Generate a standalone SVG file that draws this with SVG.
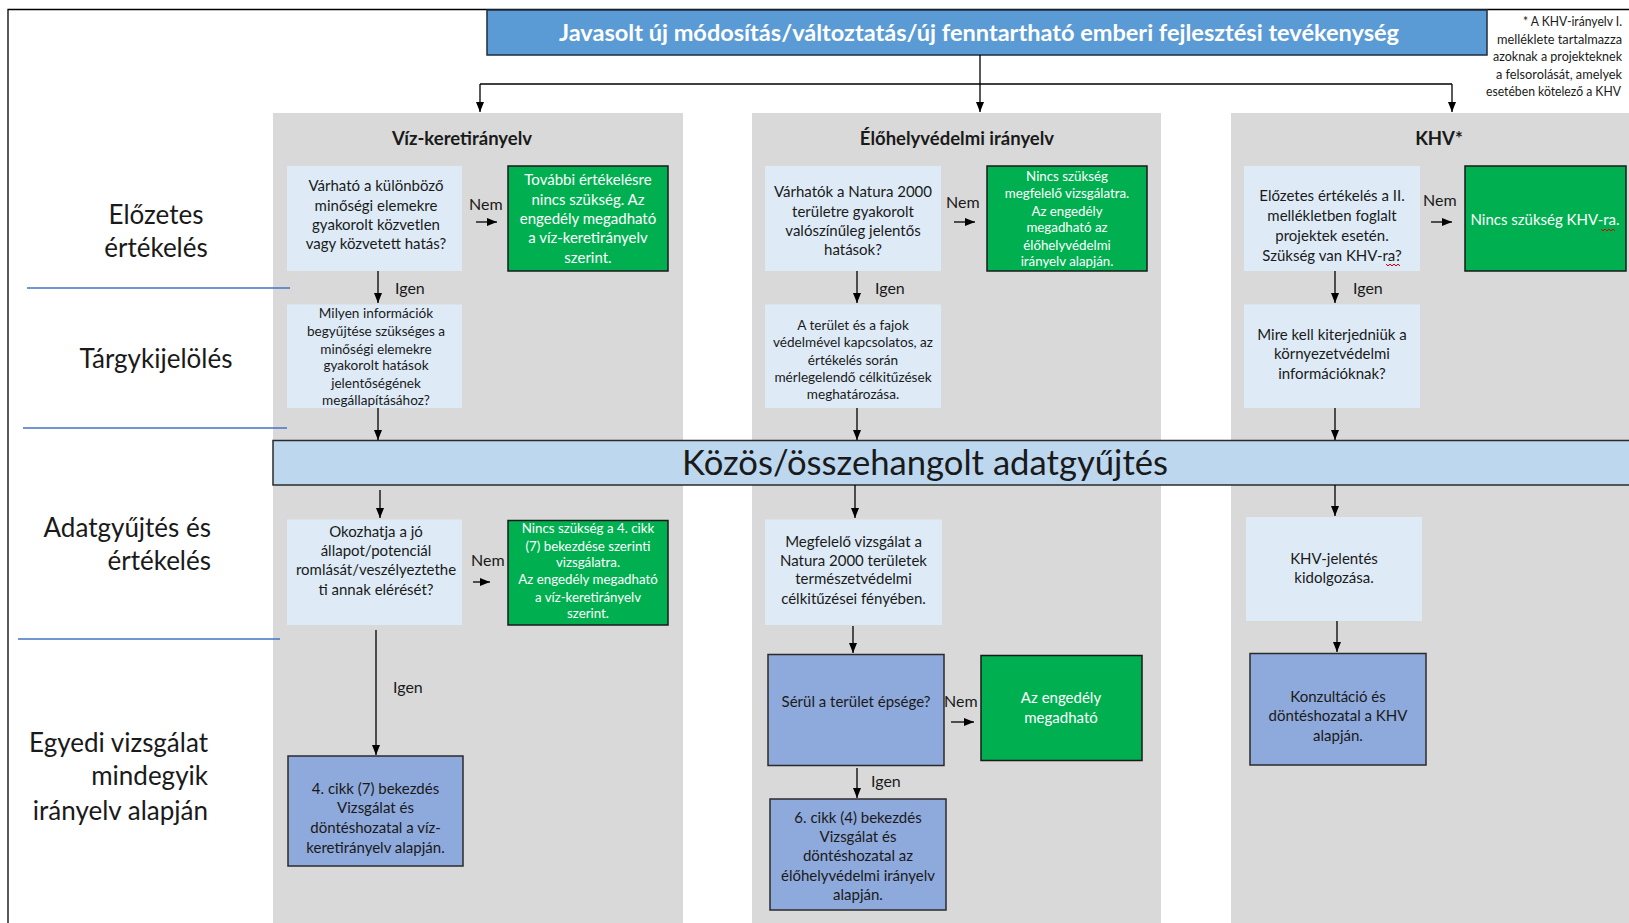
<svg xmlns="http://www.w3.org/2000/svg" width="1629" height="923" viewBox="0 0 1629 923">
<defs>
<marker id="ah" viewBox="0 0 10 8" refX="10" refY="4" markerWidth="10" markerHeight="8" markerUnits="userSpaceOnUse" orient="auto">
<path d="M0,0 L10,4 L0,8 z" fill="#000"/>
</marker>
</defs>
<style>
text{font-family:Lato,"Open Sans","Liberation Sans",sans-serif;}
.lane{fill:#D9D9D9;}
.q{fill:#DEEBF7;}
.g{fill:#00B050;stroke:#1a1a1a;stroke-width:1.5;}
.b{fill:#8EA9DB;stroke:#2b2b2b;stroke-width:1.5;}
.t{font-size:15px;fill:#1a1a1a;text-anchor:middle;}
.ts{font-size:13.6px;fill:#1a1a1a;text-anchor:middle;}
.w{font-size:15px;fill:#fff;text-anchor:middle;}
.ws{font-size:13.3px;fill:#fff;text-anchor:middle;}
.lbl{font-size:16px;fill:#1a1a1a;}
.row{font-size:26px;fill:#1a1a1a;}
.sep{stroke:#4472C4;stroke-width:1.3;fill:none;}
.c{stroke:#000;stroke-width:1.3;fill:none;marker-end:url(#ah);}
.ttl{font-size:18.5px;font-weight:bold;fill:#1a1a1a;text-anchor:middle;}
.wave{stroke:#E00000;stroke-width:1;fill:none;}
</style>

<path d="M8,923 V9.5 H1629" fill="none" stroke="#000" stroke-width="1.3"/>

<g id="lanes">
<rect class="lane" x="273" y="113" width="410" height="810"/>
<rect class="lane" x="752" y="113" width="409" height="810"/>
<rect class="lane" x="1231" y="113" width="398" height="810"/>
<text class="ttl" x="462" y="144.5">Víz-keretirányelv</text>
<text class="ttl" x="957" y="144.5">Élőhelyvédelmi irányelv</text>
<text class="ttl" x="1439" y="144.5">KHV*</text>
</g>

<g id="row-labels">
<text class="row" x="156" y="224" text-anchor="middle">Előzetes</text>
<text class="row" x="156" y="257" text-anchor="middle">értékelés</text>
<text class="row" x="156" y="368" text-anchor="middle">Tárgykijelölés</text>
<text class="row" x="211" y="537" text-anchor="end">Adatgyűjtés és</text>
<text class="row" x="211" y="570" text-anchor="end">értékelés</text>
<text class="row" x="208" y="752" text-anchor="end">Egyedi vizsgálat</text>
<text class="row" x="208" y="785" text-anchor="end">mindegyik</text>
<text class="row" x="208" y="820" text-anchor="end">irányelv alapján</text>
<line class="sep" x1="27" y1="288" x2="290" y2="288"/>
<line class="sep" x1="23" y1="428" x2="287" y2="428"/>
<line class="sep" x1="18" y1="639" x2="280" y2="639"/>
</g>

<g id="banner">
<rect x="487" y="10" width="1000" height="45" fill="#5B9BD5" stroke="#1f2d3d" stroke-width="1.5"/>
<text x="979" y="41" font-size="22" font-weight="bold" fill="#fff" text-anchor="middle" textLength="840" lengthAdjust="spacingAndGlyphs">Javasolt új módosítás/változtatás/új fenntartható emberi fejlesztési tevékenység</text>
</g>

<g id="footnote" font-size="13" fill="#1a1a1a">
<text x="1523" y="26" textLength="99" lengthAdjust="spacingAndGlyphs">* A KHV-irányelv I.</text>
<text x="1497" y="43.5" textLength="125" lengthAdjust="spacingAndGlyphs">melléklete tartalmazza</text>
<text x="1493" y="61" textLength="129" lengthAdjust="spacingAndGlyphs">azoknak a projekteknek</text>
<text x="1496" y="79" textLength="126" lengthAdjust="spacingAndGlyphs">a felsorolását, amelyek</text>
<text x="1486" y="95.5" textLength="135" lengthAdjust="spacingAndGlyphs">esetében kötelező a KHV</text>
</g>

<g id="common-bar">
<rect x="273" y="440.5" width="1370" height="44.5" fill="#BDD7EE" stroke="#2b2b2b" stroke-width="1.5"/>
<text x="925" y="475" font-size="34" fill="#1a1a1a" text-anchor="middle" textLength="486" lengthAdjust="spacingAndGlyphs">Közös/összehangolt adatgyűjtés</text>
</g>

<!-- Panel 1 -->
<g id="wfd-q1">
<rect class="q" x="287" y="166" width="175" height="105"/>
<text class="t" x="376" y="191">Várható a különböző</text>
<text class="t" x="376" y="210.5">minőségi elemekre</text>
<text class="t" x="376" y="229.5">gyakorolt közvetlen</text>
<text class="t" x="376" y="249">vagy közvetett hatás?</text>
</g>
<g id="wfd-no1">
<rect class="g" x="508" y="166" width="160" height="105"/>
<text class="w" x="588" y="185">További értékelésre</text>
<text class="w" x="588" y="204.5">nincs szükség. Az</text>
<text class="w" x="588" y="224">engedély megadható</text>
<text class="w" x="588" y="243">a víz-keretirányelv</text>
<text class="w" x="588" y="262.5">szerint.</text>
</g>
<g id="wfd-q2">
<rect class="q" x="287" y="304.5" width="175" height="103.5"/>
<text class="ts" x="376" y="318">Milyen információk</text>
<text class="ts" x="376" y="336">begyűjtése szükséges a</text>
<text class="ts" x="376" y="353.5">minőségi elemekre</text>
<text class="ts" x="376" y="370">gyakorolt hatások</text>
<text class="ts" x="376" y="388">jelentőségének</text>
<text class="ts" x="376" y="404.5">megállapításához?</text>
</g>
<g id="wfd-q3">
<rect class="q" x="287" y="519.5" width="175" height="105.5"/>
<text class="t" x="376" y="536.5">Okozhatja a jó</text>
<text class="t" x="376" y="556">állapot/potenciál</text>
<text class="t" x="376" y="575">romlását/veszélyeztethe</text>
<text class="t" x="376" y="594.5">ti annak elérését?</text>
</g>
<g id="wfd-no2">
<rect class="g" x="508" y="520.5" width="160" height="104.5"/>
<text class="ws" x="588" y="533">Nincs szükség a 4. cikk</text>
<text class="ws" x="588" y="550.5">(7) bekezdése szerinti</text>
<text class="ws" x="588" y="567">vizsgálatra.</text>
<text class="ws" x="588" y="584">Az engedély megadható</text>
<text class="ws" x="588" y="601.5">a víz-keretirányelv</text>
<text class="ws" x="588" y="618">szerint.</text>
</g>
<g id="wfd-decision">
<rect class="b" x="288" y="756" width="175" height="110"/>
<text class="t" x="375.5" y="793.5">4. cikk (7) bekezdés</text>
<text class="t" x="375.5" y="813">Vizsgálat és</text>
<text class="t" x="375.5" y="833">döntéshozatal a víz-</text>
<text class="t" x="375.5" y="852.5">keretirányelv alapján.</text>
</g>

<!-- Panel 2 -->
<g id="hd-q1">
<rect class="q" x="765" y="166" width="176" height="105"/>
<text class="t" x="853" y="197">Várhatók a Natura 2000</text>
<text class="t" x="853" y="217">területre gyakorolt</text>
<text class="t" x="853" y="235.5">valószínűleg jelentős</text>
<text class="t" x="853" y="255">hatások?</text>
</g>
<g id="hd-no1">
<rect class="g" x="987" y="166" width="160" height="105"/>
<text class="ws" x="1067" y="181">Nincs szükség</text>
<text class="ws" x="1067" y="197.5">megfelelő vizsgálatra.</text>
<text class="ws" x="1067" y="215.5">Az engedély</text>
<text class="ws" x="1067" y="232">megadható az</text>
<text class="ws" x="1067" y="249.5">élőhelyvédelmi</text>
<text class="ws" x="1067" y="266">irányelv alapján.</text>
</g>
<g id="hd-q2">
<rect class="q" x="765" y="304.5" width="176" height="103.5"/>
<text class="ts" x="853" y="329.7">A terület és a fajok</text>
<text class="ts" x="853" y="347.3">védelmével kapcsolatos, az</text>
<text class="ts" x="853" y="365">értékelés során</text>
<text class="ts" x="853" y="381.6">mérlegelendő célkitűzések</text>
<text class="ts" x="853" y="399.3">meghatározása.</text>
</g>
<g id="hd-q3">
<rect class="q" x="765" y="519.5" width="177" height="105.5"/>
<text class="t" x="853.5" y="546.8">Megfelelő vizsgálat a</text>
<text class="t" x="853.5" y="565.5">Natura 2000 területek</text>
<text class="t" x="853.5" y="584.2">természetvédelmi</text>
<text class="t" x="853.5" y="604">célkitűzései fényében.</text>
</g>
<g id="hd-q4">
<rect class="b" x="768" y="654.5" width="176" height="111"/>
<text class="t" x="856" y="707">Sérül a terület épsége?</text>
</g>
<g id="hd-no2">
<rect class="g" x="981" y="655.5" width="161" height="105"/>
<text class="w" x="1061" y="703">Az engedély</text>
<text class="w" x="1061" y="723">megadható</text>
</g>
<g id="hd-decision">
<rect class="b" x="770" y="799" width="176" height="111"/>
<text class="t" x="858" y="822.5">6. cikk (4) bekezdés</text>
<text class="t" x="858" y="842">Vizsgálat és</text>
<text class="t" x="858" y="861">döntéshozatal az</text>
<text class="t" x="858" y="880.5">élőhelyvédelmi irányelv</text>
<text class="t" x="858" y="900">alapján.</text>
</g>

<!-- Panel 3 -->
<g id="eia-q1">
<rect class="q" x="1244" y="166" width="176" height="105"/>
<text class="t" x="1332" y="201.4">Előzetes értékelés a II.</text>
<text class="t" x="1332" y="221">mellékletben foglalt</text>
<text class="t" x="1332" y="240.8">projektek esetén.</text>
<text class="t" x="1332" y="260.6">Szükség van KHV-ra?</text>
<path class="wave" d="M1386,264 l2,2 l2,-2 l2,2 l2,-2 l2,2 l2,-2 l2,2"/>
</g>
<g id="eia-no1">
<rect class="g" x="1465" y="166" width="161" height="105"/>
<text class="w" x="1545" y="225">Nincs szükség KHV-ra.</text>
<path class="wave" d="M1601,229 l2,2 l2,-2 l2,2 l2,-2 l2,2 l2,-2 l2,2"/>
</g>
<g id="eia-q2">
<rect class="q" x="1244" y="304.5" width="176" height="103.5"/>
<text class="t" x="1332" y="339.5">Mire kell kiterjedniük a</text>
<text class="t" x="1332" y="359.3">környezetvédelmi</text>
<text class="t" x="1332" y="379">információknak?</text>
</g>
<g id="eia-q3">
<rect class="q" x="1246" y="517" width="176" height="104"/>
<text class="t" x="1334" y="563.5">KHV-jelentés</text>
<text class="t" x="1334" y="583">kidolgozása.</text>
</g>
<g id="eia-decision">
<rect class="b" x="1250" y="653.5" width="176" height="111.5"/>
<text class="t" x="1338" y="701.5">Konzultáció és</text>
<text class="t" x="1338" y="721.3">döntéshozatal a KHV</text>
<text class="t" x="1338" y="741">alapján.</text>
</g>

<g id="connectors">
<line x1="980" y1="55" x2="980" y2="84" stroke="#000" stroke-width="1.3"/>
<line x1="480" y1="84" x2="1452" y2="84" stroke="#000" stroke-width="1.3"/>
<line class="c" x1="480" y1="84" x2="480" y2="112"/>
<line class="c" x1="980" y1="84" x2="980" y2="112"/>
<line class="c" x1="1452" y1="84" x2="1452" y2="112"/>

<line class="c" x1="378" y1="271" x2="378" y2="303"/>
<line class="c" x1="378" y1="408" x2="378" y2="440"/>
<line class="c" x1="380" y1="490" x2="380" y2="518"/>
<line class="c" x1="376" y1="630" x2="376" y2="755"/>
<line class="c" x1="476" y1="222" x2="497" y2="222"/>
<line class="c" x1="473" y1="582" x2="490" y2="582"/>

<line class="c" x1="857" y1="271" x2="857" y2="303"/>
<line class="c" x1="857" y1="408" x2="857" y2="440"/>
<line class="c" x1="855" y1="485" x2="855" y2="518"/>
<line class="c" x1="853" y1="626" x2="853" y2="653"/>
<line class="c" x1="857" y1="768" x2="857" y2="798"/>
<line class="c" x1="954" y1="222" x2="975" y2="222"/>
<line class="c" x1="951" y1="722" x2="974" y2="722"/>

<line class="c" x1="1335" y1="271" x2="1335" y2="303"/>
<line class="c" x1="1335" y1="408" x2="1335" y2="440"/>
<line class="c" x1="1335" y1="485" x2="1335" y2="516"/>
<line class="c" x1="1337" y1="621" x2="1337" y2="652"/>
<line class="c" x1="1431" y1="222" x2="1452" y2="222"/>

<text class="lbl" x="469" y="210">Nem</text>
<text class="lbl" x="946" y="208">Nem</text>
<text class="lbl" x="1423" y="206">Nem</text>
<text class="lbl" x="471" y="566">Nem</text>
<text class="lbl" x="944" y="707">Nem</text>
<text class="lbl" x="395" y="294">Igen</text>
<text class="lbl" x="875" y="294">Igen</text>
<text class="lbl" x="1353" y="294">Igen</text>
<text class="lbl" x="393" y="693">Igen</text>
<text class="lbl" x="871" y="787">Igen</text>
</g>
</svg>
